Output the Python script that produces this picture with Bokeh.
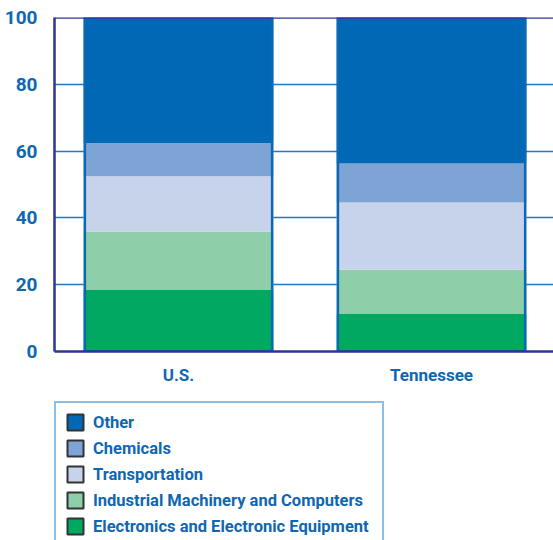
from bokeh.plotting import figure
from bokeh.layouts import column
from bokeh.models import Range1d, FixedTicker, Span, Legend, LegendItem, CustomJSTickFormatter
from bokeh.embed import file_html
from bokeh.resources import INLINE

categories = ["U.S.", "Tennessee"]
series_names = ["Electronics and Electronic Equipment", "Industrial Machinery and Computers",
                "Transportation", "Chemicals", "Other"]
electronics = [18.4, 11.4]
industrial = [17.5, 13.1]
transportation = [16.6, 20.1]
chemicals = [9.9, 11.7]
other = [37.6, 43.7]
y_ticks = [0, 20, 40, 60, 80, 100]

colors = ["#00a862", "#8ecfaa", "#c7d3eb", "#7ea3d5", "#0068b4"]
FONT = "Roboto"
TEXT = "#0f67b2"
NAVY = "#2e3592"

xs = list(range(len(categories)))
series = [electronics, industrial, transportation, chemicals, other]

p = figure(width=553, height=392, output_backend="svg", toolbar_location=None,
           x_range=Range1d(-0.49, 1.482), y_range=Range1d(0, 100),
           min_border_left=54, min_border_right=0, min_border_top=17, min_border_bottom=41)
p.outline_line_color = None
p.background_fill_color = "white"

# stacked bars
stack_bottoms = []
stack_tops = []
bottoms = [0.0] * len(categories)
for vals, c in zip(series, colors):
    tops = [b + v for b, v in zip(bottoms, vals)]
    p.vbar(x=xs, bottom=bottoms, top=tops, width=0.75, fill_color=c, line_color=None)
    stack_bottoms.append(bottoms)
    stack_tops.append(tops)
    bottoms = tops

# outline of each whole bar
p.vbar(x=xs, bottom=[0] * len(xs), top=bottoms, width=0.74, fill_color=None,
       line_color="#0b68b4", line_width=2.5)

# top frame line
p.add_layout(Span(location=100, dimension="width", line_color=NAVY, line_width=2.5))

# axes
for ax in (p.xaxis, p.yaxis):
    ax.axis_line_color = NAVY
    ax.axis_line_width = 2.5
    ax.major_tick_line_color = None
    ax.minor_tick_line_color = None
    ax.major_tick_out = 0
    ax.major_tick_in = 0
    ax.minor_tick_out = 0
    ax.minor_tick_in = 0
    ax.major_label_text_font = FONT
    ax.major_label_text_font_style = "bold"
    ax.major_label_text_color = TEXT

p.yaxis.ticker = FixedTicker(ticks=y_ticks)
p.yaxis.major_label_text_font_size = "19px"
p.yaxis.major_label_standoff = 17

p.xaxis.ticker = FixedTicker(ticks=xs)
p.xaxis.formatter = CustomJSTickFormatter(args=dict(cats=categories),
                                          code="return cats[Math.round(tick)] || '';")
p.xaxis.major_label_text_font_size = "17px"
p.xaxis.major_label_standoff = 13

p.xgrid.grid_line_color = None
p.ygrid.ticker = FixedTicker(ticks=y_ticks[1:-1])
p.ygrid.grid_line_color = "#1f78c1"
p.ygrid.grid_line_width = 1.5

# legend panel
p2 = figure(width=553, height=148, output_backend="svg", toolbar_location=None,
            x_axis_location=None, y_axis_location=None,
            x_range=Range1d(-0.49, 1.482), y_range=Range1d(0, 100),
            min_border_left=54, min_border_right=0, min_border_top=9, min_border_bottom=0)
p2.outline_line_color = None
p2.background_fill_color = "white"
p2.grid.visible = False

items = []
for b, t, c, name in reversed(list(zip(stack_bottoms, stack_tops, colors, series_names))):
    r = p2.vbar(x=xs, bottom=b, top=t, width=0.75, fill_color=c,
                line_color="#333333", line_width=2, visible=False)
    items.append(LegendItem(label=name, renderers=[r]))

legend = Legend(items=items, location="top_left", margin=0,
                padding=9, spacing=6, glyph_width=20, glyph_height=20,
                label_height=20, label_standoff=8, label_width=280,
                label_text_font=FONT, label_text_font_style="bold",
                label_text_font_size="16.5px", label_text_color=TEXT,
                border_line_color="#1a7fd2", border_line_width=2,
                background_fill_color="white", background_fill_alpha=1.0)
p2.add_layout(legend, "center")

open("out.html", "w").write(file_html(column(p, p2), INLINE))
